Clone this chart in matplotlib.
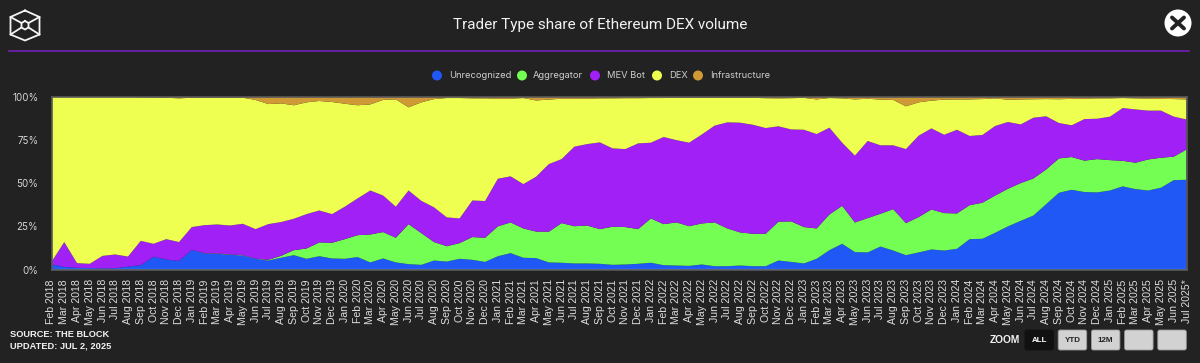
import matplotlib
matplotlib.use("Agg")
import matplotlib.pyplot as plt
from matplotlib.patches import Circle, FancyBboxPatch
from matplotlib.lines import Line2D
import pandas as pd

W, H = 1200, 363
BG = "#222222"

months = [d.strftime("%b %Y") for d in pd.date_range("2018-02-01", "2025-07-01", freq="MS")]
months[-1] = "Jul 2025*"

unrecognized = [3,1.5,1,0.8,0.6,0.7,1.7,2.5,7.4,5.8,5,11.4,9.3,9.1,8.5,8.1,6.2,5.2,6.8,8.3,6.2,7.7,6.4,
    6.2,7.2,4.1,6.4,4.1,3.1,2.7,5.2,4.6,6.2,5.6,4.4,7.7,9.5,6.8,6.6,4.1,3.9,3.5,3.5,3.3,2.7,2.9,
    3.3,3.9,2.5,2.3,2.1,2.9,1.9,1.9,2.3,1.9,1.9,5.2,4.4,3.5,6.2,11.2,14.9,10.1,9.9,13.3,11,8.3,9.9,
    11.6,11,12,17.6,17.8,21.3,25,28.2,31.3,37.9,44.5,46.2,44.9,44.7,45.8,48.2,46.6,45.8,47.4,51.8,52]
aggregator = [0,0,0,0,0,0,0,0,0,0,0,0,0.1,0.2,0.2,0.2,0.1,0.4,1.1,2.9,6,8,9.1,
    11.4,12.7,16.2,15.3,14.3,23.2,18.4,10.7,8.9,9.1,13.2,14,17.3,17.8,17,15.4,17.8,23,21.6,22,20.1,22.1,21.7,
    20.1,25.7,23.8,25,23,23.8,25.4,21.9,19.2,18.8,18.8,22.5,23.5,21.1,17.6,20.7,22,17.2,19.9,19,24,18.6,20.5,
    23.2,21.7,20.5,19.7,20.9,21.6,21.8,21.9,21.5,20.1,19.9,19,18.2,19.3,17.6,14.8,15.3,18,17.4,13.6,17.6]
mev_bot = [1.4,14.4,2.7,2.5,7.3,8,5.8,14.1,7.5,11.8,10.9,13.2,16.3,16.8,16.8,18.2,17.1,20.7,19.6,18.2,19.9,18.5,16.6,
    18.8,21.3,25.5,21.2,18,19.5,18.7,20.1,16.7,14.3,21.2,21.3,27.6,26.7,25.7,31.8,39.2,37.1,46.1,47.2,50.3,45.4,45.2,
    49.7,43.9,50.5,47.7,48.4,51.6,56.1,61.5,63.6,63.2,61.3,55.3,53.3,56.4,54.7,50.3,36.6,38.7,44.7,39.7,37,42.9,47.2,
    47,45.4,48.5,40.1,39.3,40.3,38.7,34,35.2,30.8,20.5,18.4,24.1,23.4,25.2,30.6,30.9,28.3,27.3,23.2,17.4]
dex = [95.6,84.1,96.3,96.7,92.1,91.3,92.5,83.3,84.9,82,83.3,75,73.9,73.6,74.2,73.1,74.9,69.6,68.8,65.8,64.8,63.5,65,
    59.7,54,49.9,55.4,62.2,48.2,57.1,62.8,69.2,69.8,59.2,59.5,46.4,45,49.9,44.2,37.4,35,27.8,26.3,25.5,29,29.5,
    26.2,25.9,22.6,24.5,26,21.2,16.1,14.2,14.4,15.6,17.3,16.2,18.1,18.5,20.1,17.2,25.7,32.6,24.5,26.5,26.3,24.8,19.3,
    16.1,20.4,17.6,21.2,20.8,16,12.9,14.5,10.7,10,13.8,15.3,11.8,11.8,10.6,5.8,6.4,6.9,6.8,10.2,11.6]
infrastructure = [0,0,0,0,0,0,0,0.1,0.2,0.4,0.8,0.4,0.4,0.3,0.3,0.4,1.7,4.1,3.7,4.8,3.1,2.3,2.9,
    3.9,4.8,4.3,1.7,1.4,6,3.1,1.2,0.6,0.6,0.8,0.8,1,1,0.6,2,1.5,1,1,1,0.8,0.8,0.7,
    0.7,0.6,0.6,0.5,0.5,0.5,0.5,0.5,0.5,0.5,0.7,0.8,0.7,0.5,1.4,0.6,0.8,1.4,1,1.5,1.7,5.4,3.1,
    2.1,1.5,1.4,1.4,1.2,0.8,1.6,1.4,1.3,1.2,1.3,1.1,1,0.8,0.8,0.6,0.8,1,1.1,1.2,1.4]
labels = ["Unrecognized", "Aggregator", "MEV Bot", "DEX", "Infrastructure"]
colors = ["#2058f5", "#74fd52", "#a020f5", "#eeff52", "#cf9a36"]
yticks = [0, 25, 50, 75, 100]
ytick_labels = ["0%", "25%", "50%", "75%", "100%"]
zoom_labels = ["ALL", "YTD", "12M", "", ""]

fig = plt.figure(figsize=(W / 100, H / 100), dpi=100, facecolor=BG)
L, R, T, B = 51.5, 1186.5, 97, 269.5
ax = fig.add_axes([L / W, 1 - B / H, (R - L) / W, (B - T) / H], facecolor=BG)
x = list(range(len(months)))
ax.stackplot(x, unrecognized, aggregator, mev_bot, dex, infrastructure, colors=colors, lw=0)
ax.set_xlim(0, len(months) - 1)
ax.set_ylim(0, 100)
ax.set_xticks(x)
ax.set_xticklabels(months, rotation=90, fontsize=7.6, family="Liberation Sans", color="#dddddd")
ax.set_yticks(yticks)
ax.set_yticklabels(ytick_labels, fontsize=7, family="Inter", color="#d5d5d5")
ax.tick_params(axis="x", length=0, pad=7)
ax.tick_params(axis="y", length=0, pad=9.5)
for s in ("right", "left", "bottom", "top"):
    ax.spines[s].set_color("#5a5a5a")
    ax.spines[s].set_linewidth(1.2)
ax.axhline(0.5, color="#4d86f7", lw=1)


def fx(px):
    return px / W


def fy(py):
    return 1 - py / H


# Title, rule
fig.text(0.5, fy(25.5), "Trader Type share of Ethereum DEX volume", ha="center", va="center",
         color="#f2f2f2", fontsize=11.0, family="Roboto")
fig.add_artist(Line2D([fx(9), fx(1189)], [fy(50.5), fy(50.5)], color="#7a1fc4", lw=1.1))

# Legend
legend_items = [(437, 449, labels[0]), (522, 533, labels[1]), (595, 607, labels[2]),
                (657, 669, labels[3]), (698, 710, labels[4])]
for (cx, tx, lab), c in zip(legend_items, colors):
    fig.add_artist(Circle((cx, H - 75.5), 5, transform=None, color=c, lw=0))
    fig.text(fx(tx), fy(75.5), lab, ha="left", va="center", color="#cfcfcf", fontsize=6.7,
             family="Inter")

# Logo
white = "#f4f4f4"
hexa = [(25, 10.5), (39.5, 17), (39.5, 34.5), (25, 40.5), (10.5, 34.5), (10.5, 17), (25, 10.5)]
inner = [(25, 21), (28.5, 23), (28.5, 27.5), (25, 29.5), (21.5, 27.5), (21.5, 23), (25, 21)]
for pts in (hexa, inner):
    fig.add_artist(Line2D([fx(p[0]) for p in pts], [fy(p[1]) for p in pts], color=white, lw=1.3))
for a, b in [((10.5, 17), (21.5, 23)), ((39.5, 17), (28.5, 23)), ((10.5, 34.5), (21.5, 27.5)),
             ((39.5, 34.5), (28.5, 27.5))]:
    fig.add_artist(Line2D([fx(a[0]), fx(b[0])], [fy(a[1]), fy(b[1])], color=white, lw=1.3))

# Close button
fig.add_artist(Circle((1178, H - 23), 13.5, transform=None, color="#ffffff", lw=0))
for d in (1, -1):
    fig.add_artist(Line2D([fx(1178 - 6), fx(1178 + 6)], [fy(23 - 5.5 * d), fy(23 + 5.5 * d)],
                          color="#222222", lw=2.8, solid_capstyle="round"))

# Footer
fig.text(fx(10), fy(334.5), "SOURCE: THE BLOCK", ha="left", va="center", color="#f2f2f2",
         fontsize=6.7, fontweight="bold", family="Liberation Sans")
fig.text(fx(10), fy(345.5), "UPDATED: JUL 2, 2025", ha="left", va="center", color="#f2f2f2",
         fontsize=6.7, fontweight="bold", family="Liberation Sans")
fig.text(fx(1020), fy(340), "ZOOM", ha="right", va="center", color="#f2f2f2", fontsize=7.4,
         fontweight="bold", family="Liberation Sans")
for i, lab in enumerate(zoom_labels):
    x0 = 1025 + i * 33.2
    active = i == 0
    fig.add_artist(FancyBboxPatch((x0, H - 350), 28.5, 20, boxstyle="round,pad=0,rounding_size=2",
                                  transform=None, fc="#111111" if active else "#d2d2d2",
                                  ec="#111111" if active else "#9a9a9a", lw=0.6))
    if lab:
        fig.text(fx(x0 + 14.2), fy(340.5), lab, ha="center", va="center",
                 color="#ffffff" if active else "#222222", fontsize=5.8, fontweight="bold",
                 family="Liberation Sans")

fig.savefig("out.png", dpi=100, facecolor=BG)
